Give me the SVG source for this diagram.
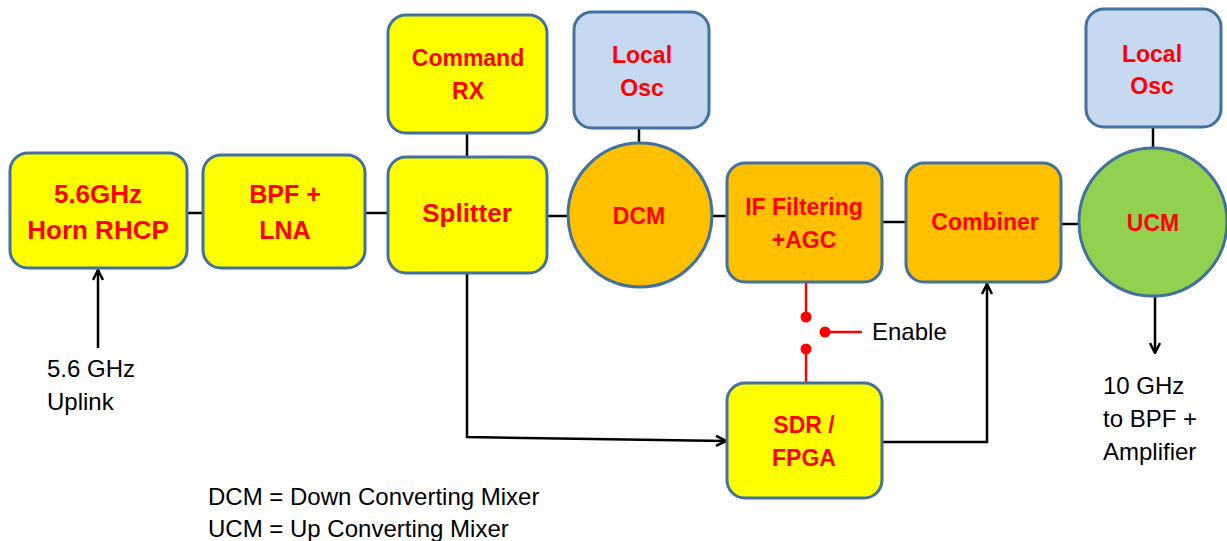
<svg xmlns="http://www.w3.org/2000/svg" width="1227" height="541" viewBox="0 0 1227 541">
<defs>
<style>
.box{stroke:#41719C;stroke-width:3}
.y{fill:#FFFF00}
.o{fill:#FFC000}
.b{fill:#C6D9F0}
.g{fill:#92D050}
.t{font-family:"Liberation Sans",Arial,sans-serif;font-weight:bold;font-size:23px;fill:#FF0000;text-anchor:middle}
.n{font-family:"Liberation Sans",Arial,sans-serif;font-size:24px;fill:#000}
.c{fill:none;stroke:#000;stroke-width:2.5}
.r{fill:none;stroke:#FF0000;stroke-width:2.5}
</style>
<marker id="arr" viewBox="0 0 12 12" refX="11" refY="6" markerWidth="12" markerHeight="12" markerUnits="userSpaceOnUse" orient="auto">
<path d="M1,1 L11,6 L1,11" fill="none" stroke="#000" stroke-width="2.5"/>
</marker>
</defs>
<rect width="1227" height="541" fill="#fff"/>
<g id="connectors">
<line class="c" x1="187" y1="213" x2="203" y2="213"/>
<line class="c" x1="365" y1="213" x2="388" y2="213"/>
<line class="c" x1="467" y1="133" x2="467" y2="156"/>
<line class="c" x1="547" y1="216" x2="568" y2="216"/>
<line class="c" x1="639" y1="128" x2="639" y2="143"/>
<line class="c" x1="712" y1="216" x2="727" y2="216"/>
<line class="c" x1="882" y1="222" x2="906" y2="222"/>
<line class="c" x1="1061" y1="224" x2="1080" y2="224"/>
<line class="c" x1="1153" y1="127" x2="1153" y2="147"/>
<line class="c" x1="1155" y1="297" x2="1155" y2="353" marker-end="url(#arr)"/>
<line class="c" x1="98" y1="348" x2="98" y2="270" marker-end="url(#arr)"/>
<polyline class="c" points="467,273 467,437 726,441" marker-end="url(#arr)"/>
<polyline class="c" points="882,442 987,442 987,284" marker-end="url(#arr)"/>
<g id="enable-switch">
<line class="r" x1="806" y1="282" x2="806" y2="317"/>
<line class="r" x1="806" y1="349" x2="806" y2="383"/>
<line class="r" x1="825" y1="332" x2="862" y2="332"/>
<circle cx="806" cy="317" r="5.5" fill="#FF0000"/>
<circle cx="806" cy="349" r="5.5" fill="#FF0000"/>
<circle cx="825" cy="332" r="5.5" fill="#FF0000"/>
</g>
</g>
<g id="horn"><rect class="box y" x="10" y="153" width="177" height="115" rx="18"/><text class="t" x="98" y="203" style="font-size:26px">5.6GHz</text><text class="t" x="98" y="239" style="font-size:26px">Horn RHCP</text></g>
<g id="bpf-lna"><rect class="box y" x="203" y="155" width="162" height="113" rx="18"/><text class="t" x="285" y="203" style="font-size:25px">BPF +</text><text class="t" x="285" y="239" style="font-size:25px">LNA</text></g>
<g id="command-rx"><rect class="box y" x="388" y="15" width="159" height="118" rx="18"/><text class="t" x="468" y="66">Command</text><text class="t" x="468" y="99">RX</text></g>
<g id="splitter"><rect class="box y" x="388" y="157" width="159" height="116" rx="18"/><text class="t" x="467" y="222" style="font-size:26px">Splitter</text></g>
<g id="local-osc-1"><rect class="box b" x="574" y="12" width="135" height="116" rx="18"/><text class="t" x="642" y="63">Local</text><text class="t" x="642" y="96">Osc</text></g>
<g id="dcm"><circle class="box o" cx="640" cy="215" r="72"/><text class="t" x="639" y="224">DCM</text></g>
<g id="if-filtering"><rect class="box o" x="727" y="163" width="155" height="119" rx="18"/><text class="t" x="804" y="215">IF Filtering</text><text class="t" x="804" y="248">+AGC</text></g>
<g id="combiner"><rect class="box o" x="906" y="163" width="155" height="119" rx="18"/><text class="t" x="985" y="230">Combiner</text></g>
<g id="ucm"><circle class="box g" cx="1153" cy="222" r="74"/><text class="t" x="1153" y="231">UCM</text></g>
<g id="local-osc-2"><rect class="box b" x="1086" y="9" width="135" height="118" rx="18"/><text class="t" x="1152" y="62">Local</text><text class="t" x="1152" y="94">Osc</text></g>
<g id="sdr-fpga"><rect class="box y" x="727" y="383" width="155" height="115" rx="18"/><text class="t" x="804" y="433">SDR /</text><text class="t" x="804" y="466">FPGA</text></g>
<g id="labels">
<text class="n" x="47" y="377">5.6 GHz</text>
<text class="n" x="47" y="410">Uplink</text>
<text class="n" x="872" y="340">Enable</text>
<text class="n" x="1103" y="394">10 GHz</text>
<text class="n" x="1103" y="427">to BPF +</text>
<text class="n" x="1103" y="460">Amplifier</text>
<text class="n" x="208" y="505">DCM = Down Converting Mixer</text>
<text class="n" x="208" y="537">UCM = Up Converting Mixer</text>
</g>
</svg>
